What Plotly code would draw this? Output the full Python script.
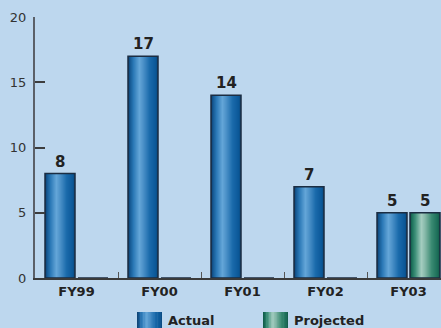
import plotly.graph_objects as go

# ---- data ----
years = ["FY99", "FY00", "FY01", "FY02", "FY03"]
actual = [8, 17, 14, 7, 5]
projected = [0, 0, 0, 0, 5]
y_ticks = [0, 5, 10, 15, 20]
series_names = ["Actual", "Projected"]

# ---- geometry / style ----
W, H = 441, 328
M_L, M_R, M_T, M_B = 35, 0, 17, 50
PLOT_W = W - M_L - M_R
PLOT_H = H - M_T - M_B
CAT_PX = 83.0                      # pixel width of one category slot
BAR_PX = 30.0
BAR_W = BAR_PX / CAT_PX
OFFSETS = [-31.5 / CAT_PX, 1.5 / CAT_PX]
BG = "#bdd7ee"
FONT = "DejaVu Sans"

# cylindrical shading across the width of a bar
ACTUAL_STOPS = [(0.0, "#0b355f"), (0.06, "#14558f"), (0.18, "#2a78b6"),
                (0.38, "#64a6d8"), (0.5, "#4d92c9"), (0.72, "#1a6aab"),
                (0.92, "#0b5898"), (1.0, "#0a4578")]
PROJ_STOPS = [(0.0, "#0c4f3f"), (0.06, "#1a6e58"), (0.18, "#3f917a"),
              (0.38, "#a4cdc0"), (0.5, "#86b9a9"), (0.72, "#3a8a72"),
              (0.92, "#1b6e58"), (1.0, "#0f5646")]
GRADIENTS = [ACTUAL_STOPS, PROJ_STOPS]
N_STRIPS = 30


def hex_rgb(h):
    h = h.lstrip("#")
    return tuple(int(h[i:i + 2], 16) for i in (0, 2, 4))


def shade(stops, t):
    for (t0, c0), (t1, c1) in zip(stops, stops[1:]):
        if t0 <= t <= t1:
            f = (t - t0) / (t1 - t0) if t1 > t0 else 0
            a, b = hex_rgb(c0), hex_rgb(c1)
            r, g, bl = (round(a[i] + (b[i] - a[i]) * f) for i in range(3))
            return f"rgb({r},{g},{bl})"
    return stops[-1][1]


fig = go.Figure()

for values, off, stops in zip([actual, projected], OFFSETS, GRADIENTS):
    step = BAR_W / N_STRIPS
    for k in range(N_STRIPS):
        t = (k + 0.5) / N_STRIPS
        width = min(step * 1.4, BAR_W - k * step)
        fig.add_trace(go.Bar(
            x=years, y=values, offset=off + k * step, width=width,
            marker=dict(color=shade(stops, t), line=dict(width=0)),
            showlegend=False, hoverinfo="skip"))
    # outline on top
    fig.add_trace(go.Bar(
        x=years, y=values, offset=off, width=BAR_W,
        marker=dict(color="rgba(0,0,0,0)",
                    line=dict(color="#1b2d42", width=1.5)),
        showlegend=False, hoverinfo="skip"))

# value labels above the bars
annotations = []
for values, off in zip([actual, projected], OFFSETS):
    shift = (off + BAR_W / 2) * CAT_PX
    for cat, v in zip(years, values):
        if v > 0:
            annotations.append(dict(
                x=cat, y=v, xref="x", yref="y", text=str(v),
                showarrow=False, yanchor="bottom", xshift=shift, yshift=1,
                font=dict(family=FONT, size=15, color="#222222", weight="bold")))


def px_x(px):
    return (px - M_L) / PLOT_W


def px_y(py):
    return (H - M_B - py) / PLOT_H


# legend: shaded swatches plus bold labels
shapes = []
legend_items = [(137, 167), (263, 293)]
SW_W, SW_TOP, SW_BOT = 25, 312, 330
for (sx, tx), name, stops in zip(legend_items, series_names, GRADIENTS):
    n = 16
    for k in range(n):
        x0 = sx + SW_W * k / n
        x1 = sx + SW_W * (k + 1.3) / n if k < n - 1 else sx + SW_W
        shapes.append(dict(
            type="rect", xref="paper", yref="paper",
            x0=px_x(x0), x1=px_x(x1), y0=px_y(SW_BOT), y1=px_y(SW_TOP),
            fillcolor=shade(stops, (k + 0.5) / n), line=dict(width=0),
            layer="above"))
    annotations.append(dict(
        x=px_x(tx), y=px_y(320), xref="paper", yref="paper", text=name,
        showarrow=False, xanchor="left", yanchor="middle", borderpad=0,
        font=dict(family=FONT, size=13, color="#222222", weight="bold")))

fig.update_layout(
    width=W, height=H, autosize=False,
    margin=dict(l=M_L, r=M_R, t=M_T, b=M_B, pad=0),
    paper_bgcolor=BG, plot_bgcolor=BG,
    barmode="overlay", showlegend=False,
    annotations=annotations, shapes=shapes,
    xaxis=dict(
        type="category", range=[-0.5, -0.5 + PLOT_W / CAT_PX],
        tickson="boundaries", ticks="inside", ticklen=6, tickwidth=1,
        tickcolor="#555555", showline=True, linecolor="#3a3a3a", linewidth=2,
        showgrid=False, zeroline=False,
        tickfont=dict(family=FONT, size=13, color="#222222", weight="bold")),
    yaxis=dict(
        range=[0, 20], tickvals=y_ticks, ticks="inside", ticklen=10,
        tickwidth=1.5, tickcolor="#3d3d3d", showline=True,
        linecolor="#5b6068", linewidth=2, showgrid=False, zeroline=False,
        ticklabelstandoff=4,
        tickfont=dict(family=FONT, size=13, color="#333333")),
)

fig.write_html("out.html")
